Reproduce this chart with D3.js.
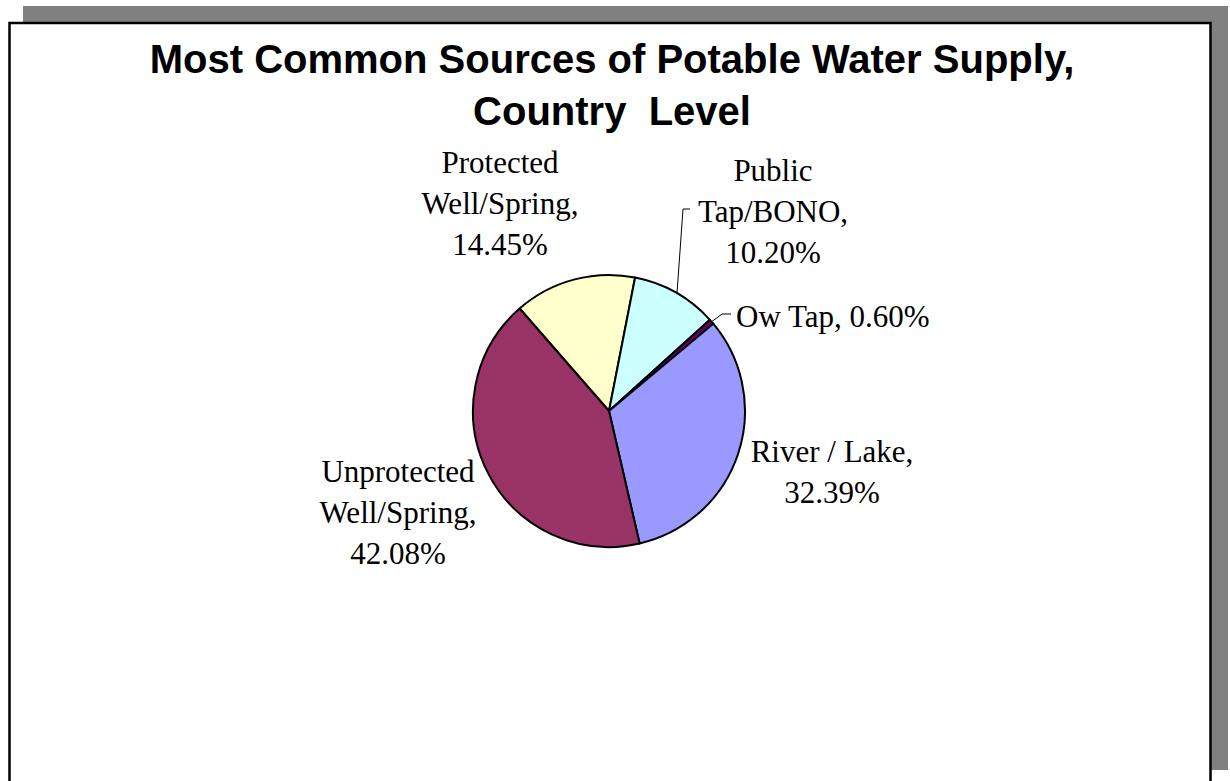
<!DOCTYPE html>
<html>
<head>
  <meta charset="utf-8">
  <title>Potable Water Supply</title>
  <script src="https://cdn.jsdelivr.net/npm/d3@7"></script>
  <style>
    body { margin: 0; background: #fff; }
  </style>
</head>
<body>
<div id="chart"></div>
<script>
// data
var categories = ["Protected Well/Spring", "Public Tap/BONO", "Ow Tap", "River / Lake", "Unprotected Well/Spring"];
var values = [14.45, 10.20, 0.60, 32.39, 42.08];
var colors = ["#FFFFCC", "#CCFFFF", "#660066", "#9999FF", "#993366"];
// label text lines (as printed on the chart)
var labelLines = [
  ["Protected", "Well/Spring,", "14.45%"],
  ["Public", "Tap/BONO,", "10.20%"],
  ["Ow Tap, 0.60%"],
  ["River / Lake,", "32.39%"],
  ["Unprotected", "Well/Spring,", "42.08%"]
];

var W = 1230, H = 781;
var cx = 609, cy = 411, radius = 136;

var svg = d3.select("#chart").append("svg")
  .attr("width", W)
  .attr("height", H);

// shadow + frame
svg.append("rect")
  .attr("x", 23).attr("y", 6)
  .attr("width", 1205).attr("height", 764)
  .attr("fill", "#808080");
svg.append("rect")
  .attr("x", 9.5).attr("y", 23)
  .attr("width", 1201).attr("height", 800)
  .attr("fill", "#fff")
  .attr("stroke", "#000")
  .attr("stroke-width", 2.5);

// title
var title = svg.append("text")
  .attr("text-anchor", "middle")
  .attr("font-family", "Liberation Sans, Arial, sans-serif")
  .attr("font-weight", "bold")
  .attr("font-size", 40);
title.append("tspan").attr("x", 612).attr("y", 73).text("Most Common Sources of Potable Water Supply,");
title.append("tspan").attr("x", 612).attr("y", 125).style("white-space", "pre").text("Country  Level");

// pie
var start = 318.9 * Math.PI / 180;
var pie = d3.pie().sort(null).startAngle(start).endAngle(start + 2 * Math.PI);
var arcs = pie(values);
var arc = d3.arc().innerRadius(0).outerRadius(radius);

var g = svg.append("g").attr("transform", "translate(" + cx + "," + cy + ")");
g.selectAll("path.slice")
  .data(arcs)
  .enter()
  .append("path")
  .attr("class", "slice")
  .attr("d", arc)
  .attr("fill", function(d, i){ return colors[i]; })
  .attr("stroke", "#000")
  .attr("stroke-width", 2)
  .attr("stroke-linejoin", "round");

// labels (layout positions)
var labelPos = [
  {x: 500, y: 173, anchor: "middle"},
  {x: 773, y: 181, anchor: "middle"},
  {x: 736, y: 327, anchor: "start"},
  {x: 832, y: 462, anchor: "middle"},
  {x: 398, y: 482, anchor: "middle"}
];
var lineH = 41;

labelLines.forEach(function(lines, i){
  var p = labelPos[i];
  var t = svg.append("text")
    .attr("text-anchor", p.anchor)
    .attr("font-family", "Liberation Serif, Times New Roman, serif")
    .attr("font-size", 31)
    .attr("fill", "#000");
  lines.forEach(function(s, j){
    t.append("tspan").attr("x", p.x).attr("y", p.y + j * lineH).text(s);
  });
});

// leader lines for the two small slices
function edgePoint(d, r) {
  var a = d.startAngle + (d.endAngle - d.startAngle) * 0.5;
  return [cx + r * Math.sin(a), cy - r * Math.cos(a)];
}
svg.append("polyline")
  .attr("points", [[677, cy - Math.sqrt(radius * radius - (677 - cx) * (677 - cx))], [683, 209], [690, 209]].join(" "))
  .attr("fill", "none")
  .attr("stroke", "#000")
  .attr("stroke-width", 1);
var p2 = edgePoint(arcs[2], radius);
svg.append("polyline")
  .attr("points", [p2, [722, 314], [731, 314]].join(" "))
  .attr("fill", "none")
  .attr("stroke", "#000")
  .attr("stroke-width", 1);
</script>
</body>
</html>
